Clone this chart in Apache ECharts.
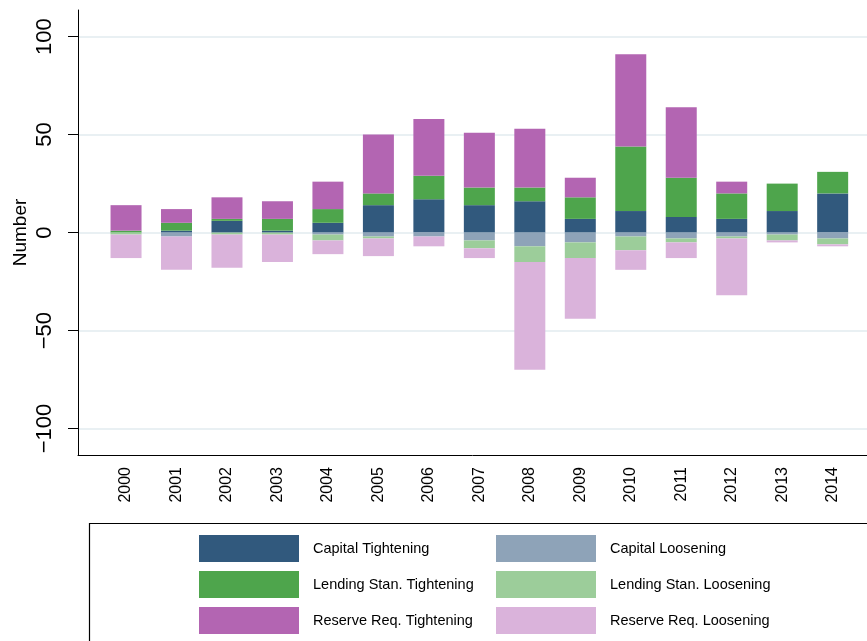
<!DOCTYPE html>
<html>
<head>
<meta charset="utf-8">
<script src="https://cdn.jsdelivr.net/npm/echarts@6/dist/echarts.min.js"></script>
<style>
html,body{margin:0;padding:0;background:#fff;}
#chart{width:867px;height:641px;}
</style>
</head>
<body>
<div id="chart"></div>
<script>
const years = ['2000','2001','2002','2003','2004','2005','2006','2007','2008','2009','2010','2011','2012','2013','2014'];
const capitalTightening   = [0, 1, 6, 1, 5, 14, 17, 14, 16, 7, 11, 8, 7, 11, 20];
const lendingTightening   = [1, 4, 1, 6, 7, 6, 12, 9, 7, 11, 33, 20, 13, 14, 11];
const reserveTightening   = [13, 7, 11, 9, 14, 30, 29, 28, 30, 10, 47, 36, 6, 0, 0];
const capitalLoosening    = [0, -2, 0, 0, -1, -2, -2, -4, -7, -5, -2, -3, -2, -1, -3];
const lendingLoosening    = [-1, 0, -1, -1, -3, -1, 0, -4, -8, -8, -7, -2, -1, -3, -3];
const reserveLoosening    = [-12, -17, -17, -14, -7, -9, -5, -5, -55, -31, -10, -8, -29, -1, -1];
const yTicks = [-100, -50, 0, 50, 100];

const names = ['Capital Tightening','Capital Loosening','Lending Stan. Tightening','Lending Stan. Loosening','Reserve Req. Tightening','Reserve Req. Loosening'];
const colors = ['#31597d','#8ea3b8','#4ea54c','#9ccd9a','#b365b2','#dab3db'];
const seriesData = [capitalTightening, capitalLoosening, lendingTightening, lendingLoosening, reserveTightening, reserveLoosening];

const YMIN = -113.5, YMAX = 113.6;
const FONT = 'Liberation Sans, Arial, Helvetica, sans-serif';

const chart = echarts.init(document.getElementById('chart'), null, {renderer: 'canvas'});
const option = {
  animation: false,
  backgroundColor: '#fff',
  textStyle: {fontFamily: FONT},
  grid: [
    {left: 78, right: 0, top: 10, bottom: 186},
    {left: 100.8, right: 9.1, top: 10, bottom: 186}
  ],
  xAxis: [
    {gridIndex: 0, type: 'value', min: 0, max: 1,
     axisLine: {show: true, onZero: false, lineStyle: {color: '#000', width: 1}},
     axisTick: {show: false}, axisLabel: {show: false}, splitLine: {show: false}},
    {gridIndex: 1, type: 'category', data: years,
     axisLine: {show: false}, axisTick: {show: false}, splitLine: {show: false},
     axisLabel: {rotate: 90, fontSize: 16, color: '#000', margin: 12, fontFamily: FONT, interval: 0}}
  ],
  yAxis: [
    {gridIndex: 0, type: 'value', min: YMIN, max: YMAX,
     name: 'Number', nameLocation: 'middle', nameRotate: 90, nameGap: 48, nameMoveOverlap: false,
     nameTextStyle: {fontSize: 19, color: '#000', fontFamily: FONT},
     axisLine: {show: true, onZero: false, lineStyle: {color: '#000', width: 1}},
     axisTick: {show: true, length: 10, customValues: yTicks, lineStyle: {color: '#000', width: 1}},
     axisLabel: {show: true, customValues: yTicks, rotate: 90, fontSize: 22, color: '#000', margin: 22, fontFamily: FONT,
                 formatter: v => (v < 0 ? '\u2212' + Math.abs(v) : String(v))},
     splitLine: {show: true, lineStyle: {color: '#e9f0f3', width: 2}}},
    {gridIndex: 1, type: 'value', min: YMIN, max: YMAX, show: false, splitLine: {show: false}}
  ],
  legend: [
    {left: 199, top: 535, orient: 'vertical', itemWidth: 100, itemHeight: 27, itemGap: 9, padding: 0,
     icon: 'rect', selectedMode: false,
     data: ['Capital Tightening','Lending Stan. Tightening','Reserve Req. Tightening'],
     textStyle: {fontSize: 14.5, color: '#000', fontFamily: FONT, padding: [2,0,0,9]}},
    {left: 496, top: 535, orient: 'vertical', itemWidth: 100, itemHeight: 27, itemGap: 9, padding: 0,
     icon: 'rect', selectedMode: false,
     data: ['Capital Loosening','Lending Stan. Loosening','Reserve Req. Loosening'],
     textStyle: {fontSize: 14.5, color: '#000', fontFamily: FONT, padding: [2,0,0,9]}}
  ],
  graphic: [
    {type: 'rect', left: 87, top: 521, shape: {x: 0, y: 0, width: 800, height: 200},
     style: {fill: 'none', stroke: '#000', lineWidth: 1.2}, silent: true}
  ],
  series: names.map((n, i) => ({
    name: n, type: 'bar', stack: 'all', xAxisIndex: 1, yAxisIndex: 1,
    barWidth: 31, data: seriesData[i],
    itemStyle: {color: colors[i]}
  }))
};
chart.setOption(option);
</script>
</body>
</html>
